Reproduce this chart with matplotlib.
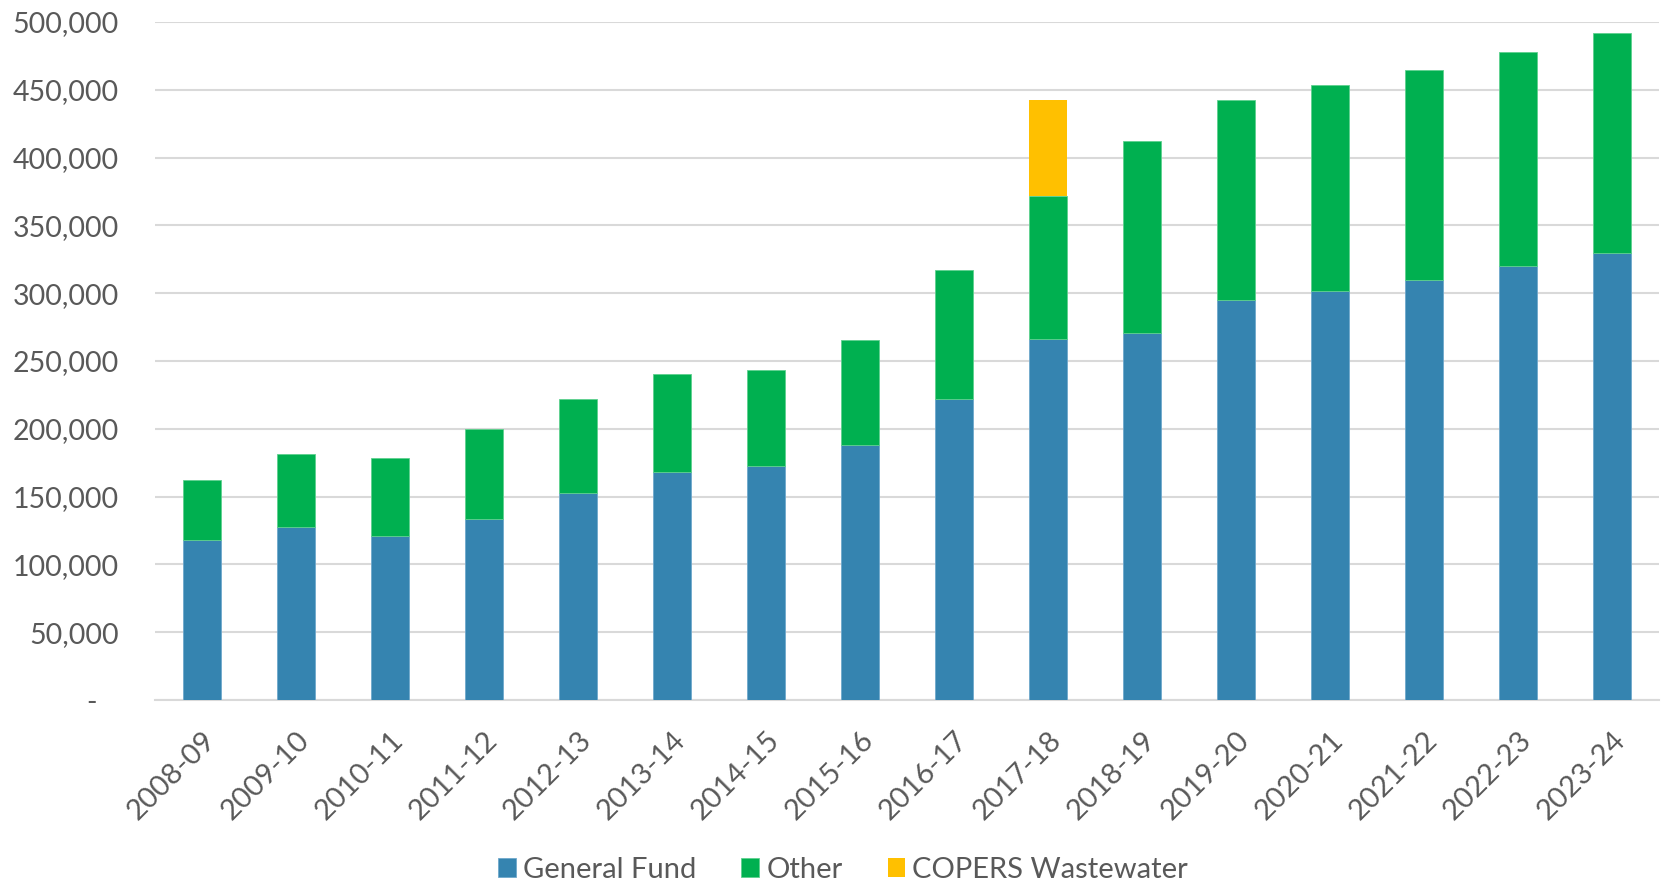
import matplotlib
matplotlib.use("Agg")
import matplotlib.pyplot as plt
from matplotlib.ticker import FuncFormatter
import numpy as np

years = ["2008-09", "2009-10", "2010-11", "2011-12", "2012-13", "2013-14",
         "2014-15", "2015-16", "2016-17", "2017-18", "2018-19", "2019-20",
         "2020-21", "2021-22", "2022-23", "2023-24"]

# (thousands), stacked totals converted to segments below
general_fund = [117.8, 127.6, 120.7, 133.2, 152.4, 167.9, 172.8, 187.8,
                221.7, 266.0, 271.0, 295.0, 301.6, 309.7, 319.8, 329.4]
total_other_top = [162.0, 181.4, 178.2, 199.9, 222.2, 240.2, 243.1, 265.5,
                   316.9, 371.7, 412.2, 442.7, 453.3, 464.6, 478.0, 491.6]
copers_wastewater = [0, 0, 0, 0, 0, 0, 0, 0, 0, 70.8, 0, 0, 0, 0, 0, 0]

gf = np.array(general_fund) * 1000
other = (np.array(total_other_top) - np.array(general_fund)) * 1000
copers = np.array(copers_wastewater) * 1000

plt.rcParams['font.family'] = ['Lato', 'DejaVu Sans']
txt = '#595959'

fig = plt.figure(figsize=(16.63, 8.81), dpi=100)
ax = fig.add_axes([0.0932, 0.2054, 0.9044, 0.7696])

x = np.arange(len(years))
w = 0.4
ax.bar(x, gf, w, color='#3584B0', edgecolor='#6FA8CC', linewidth=0.6,
       label='General Fund', zorder=3)
ax.bar(x, other, w, bottom=gf, color='#00B050', edgecolor='#5ED08E',
       linewidth=0.6, label='Other', zorder=3)
ax.bar(x, copers, w, bottom=gf + other, color='#FFC000', linewidth=0,
       label='COPERS Wastewater', zorder=3)

ax.set_xlim(-0.5, len(years) - 0.5)
ax.set_ylim(0, 500000)
ax.set_yticks(np.arange(0, 500001, 50000))
ax.yaxis.set_major_formatter(FuncFormatter(
    lambda v, p: '-   ' if v == 0 else f'{int(v):,}'))
ax.grid(axis='y', color='#D9D9D9', linewidth=1.5, zorder=0)
for s in ['top', 'right', 'left']:
    ax.spines[s].set_visible(False)
ax.spines['bottom'].set_color('#D9D9D9')
ax.spines['bottom'].set_linewidth(1.5)
ax.tick_params(axis='both', length=0, colors=txt)
ax.tick_params(axis='y', pad=26, labelsize=20.5)

ax.set_xticks(x)
ax.set_xticklabels(years, rotation=45, ha='right', va='top',
                   rotation_mode='anchor')
ax.tick_params(axis='x', pad=19, labelsize=21)

fig.legend(loc='center', bbox_to_anchor=(0.507, 0.013), ncol=3, frameon=False,
           fontsize=21, handlelength=0.6, handleheight=0.6,
           handletextpad=0.25, columnspacing=1.55, labelcolor=txt)

fig.savefig('out.png', dpi=100)
